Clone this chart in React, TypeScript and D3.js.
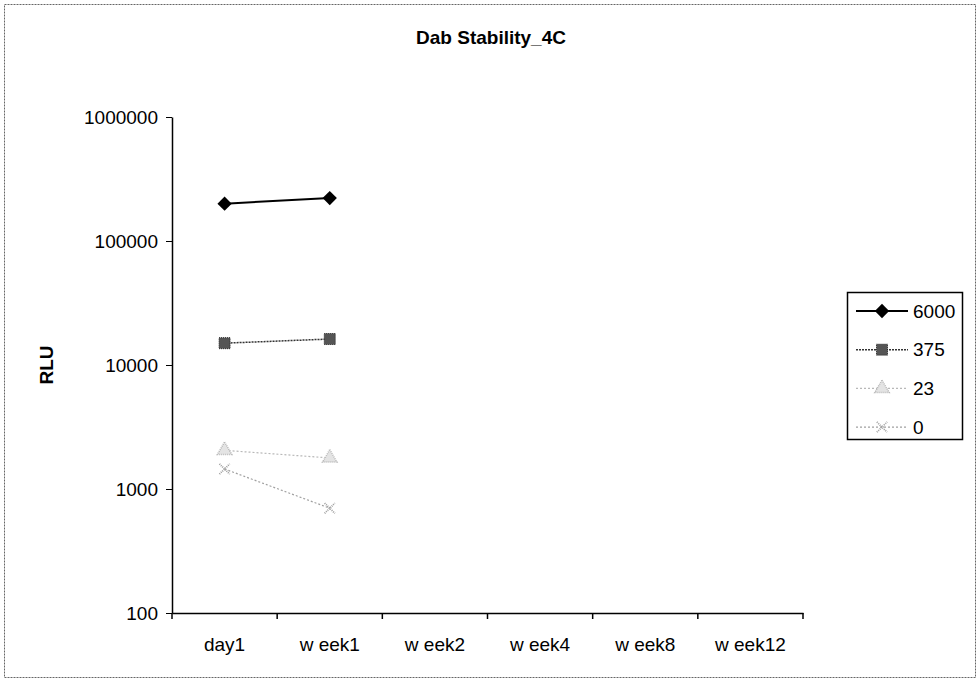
import React, { useRef, useEffect } from "react";
import * as d3 from "d3";

const categories = ["day1", "w eek1", "w eek2", "w eek4", "w eek8", "w eek12"];
const seriesNames = ["6000", "375", "23", "0"];
const values6000 = [200000, 222000];
const values375 = [15000, 16200];
const values23 = [2050, 1780];
const values0 = [1450, 700];
const yTicks = [100, 1000, 10000, 100000, 1000000];

const styles = [
  { color: "#000000", width: 2, dash: null, marker: "diamond" },
  { color: "#333333", width: 1.5, dash: "2,1", marker: "square" },
  { color: "#b8b8b8", width: 1.2, dash: "2,2", marker: "triangle" },
  { color: "#a0a0a0", width: 1.2, dash: "2,2", marker: "cross" },
];

export default function App() {
  const svgRef = useRef<SVGSVGElement>(null);

  useEffect(() => {
    const svg = d3.select(svgRef.current);
    svg.selectAll("*").remove();
    const font = "'Liberation Sans', Arial, sans-serif";
    const fs = 19;
    const W = 980, H = 686;

    svg.append("rect").attr("width", W).attr("height", H).attr("fill", "#fff");
    svg.append("rect")
      .attr("x", 4.5).attr("y", 4.5).attr("width", 971).attr("height", 673)
      .attr("fill", "none").attr("stroke", "#666").attr("stroke-dasharray", "2,1");

    const left = 172, right = 803, top = 117, bottom = 613;

    const x = d3.scaleBand().domain(categories).range([left, right]);
    const y = d3.scaleLog().domain([100, 1000000]).range([bottom, top]);

    svg.append("text")
      .attr("x", 491).attr("y", 44).attr("text-anchor", "middle")
      .attr("font-family", font).attr("font-weight", "bold").attr("font-size", fs)
      .text("Dab Stability_4C");

    // Y axis
    const ya = svg.append("g").attr("transform", `translate(${left},0)`)
      .call(d3.axisLeft(y).tickValues(yTicks).tickSize(6).tickSizeOuter(0).tickFormat(d3.format("d")));
    ya.select(".domain").attr("stroke", "#000").attr("stroke-width", 1.5);
    ya.selectAll("line").attr("stroke", "#000");
    ya.selectAll("text").attr("font-family", font).attr("font-size", fs).attr("fill", "#000").attr("dx", "-5");

    // X axis
    const xa = svg.append("g").attr("transform", `translate(0,${bottom})`)
      .call(d3.axisBottom(x).tickSize(0).tickSizeOuter(0));
    xa.select(".domain").attr("stroke", "#000").attr("stroke-width", 1.5);
    xa.selectAll("text").attr("font-family", font).attr("font-size", fs).attr("fill", "#000")
      .attr("y", 25).attr("dy", "0.71em");
    const bounds = [...categories.map((c) => x(c) as number), right];
    svg.append("g").selectAll("line").data(bounds).join("line")
      .attr("x1", (d) => d).attr("x2", (d) => d)
      .attr("y1", bottom).attr("y2", bottom + 6)
      .attr("stroke", "#000").attr("stroke-width", 1.5);

    svg.append("text")
      .attr("transform", `translate(53,365) rotate(-90)`)
      .attr("text-anchor", "middle")
      .attr("font-family", font).attr("font-weight", "bold").attr("font-size", fs)
      .text("RLU");

    const series = [values6000, values375, values23, values0];
    const cx = (i: number) => (x(categories[i]) as number) + x.bandwidth() / 2;

    const drawMarker = (g: any, kind: string, px: number, py: number, color: string) => {
      if (kind === "diamond") {
        g.append("path").attr("d", d3.symbol(d3.symbolDiamond2, 130)())
          .attr("transform", `translate(${px},${py})`).attr("fill", color);
      } else if (kind === "square") {
        g.append("rect").attr("x", px - 5.5).attr("y", py - 5.5).attr("width", 11).attr("height", 11)
          .attr("fill", "#555").attr("stroke", "#222").attr("stroke-dasharray", "1,1");
      } else if (kind === "triangle") {
        g.append("path").attr("d", d3.symbol(d3.symbolTriangle, 90)())
          .attr("transform", `translate(${px},${py})`).attr("fill", "#e4e4e4")
          .attr("stroke", color).attr("stroke-width", 1.5).attr("stroke-dasharray", "1,1");
      } else {
        g.append("path").attr("d", d3.symbol(d3.symbolTimes, 70)())
          .attr("transform", `translate(${px},${py})`).attr("fill", "none")
          .attr("stroke", color).attr("stroke-width", 1.8).attr("stroke-dasharray", "1,1");
      }
    };

    const line = d3.line<number>().x((_, i) => cx(i)).y((d) => y(d));
    series.forEach((vals, si) => {
      const s = styles[si];
      const g = svg.append("g");
      g.append("path").attr("d", line(vals)).attr("fill", "none")
        .attr("stroke", s.color).attr("stroke-width", s.width)
        .attr("stroke-dasharray", s.dash);
      vals.forEach((v, i) => drawMarker(g, s.marker, cx(i), y(v), s.color));
    });

    // Legend
    const lg = svg.append("g");
    lg.append("rect").attr("x", 847.5).attr("y", 292.5).attr("width", 115).attr("height", 147)
      .attr("fill", "#fff").attr("stroke", "#000").attr("stroke-width", 1.5);
    seriesNames.forEach((name, i) => {
      const s = styles[i];
      const ly = 311 + i * 38.7;
      lg.append("line").attr("x1", 856).attr("x2", 908).attr("y1", ly).attr("y2", ly)
        .attr("stroke", s.color).attr("stroke-width", s.width).attr("stroke-dasharray", s.dash);
      drawMarker(lg, s.marker, 882, ly, s.color);
      lg.append("text").attr("x", 913).attr("y", ly).attr("dy", "0.35em")
        .attr("font-family", font).attr("font-size", fs).text(name);
    });
  }, []);

  return (
    <svg ref={svgRef} width={980} height={686}
      style={{ position: "absolute", left: 0, top: 0 }} />
  );
}
